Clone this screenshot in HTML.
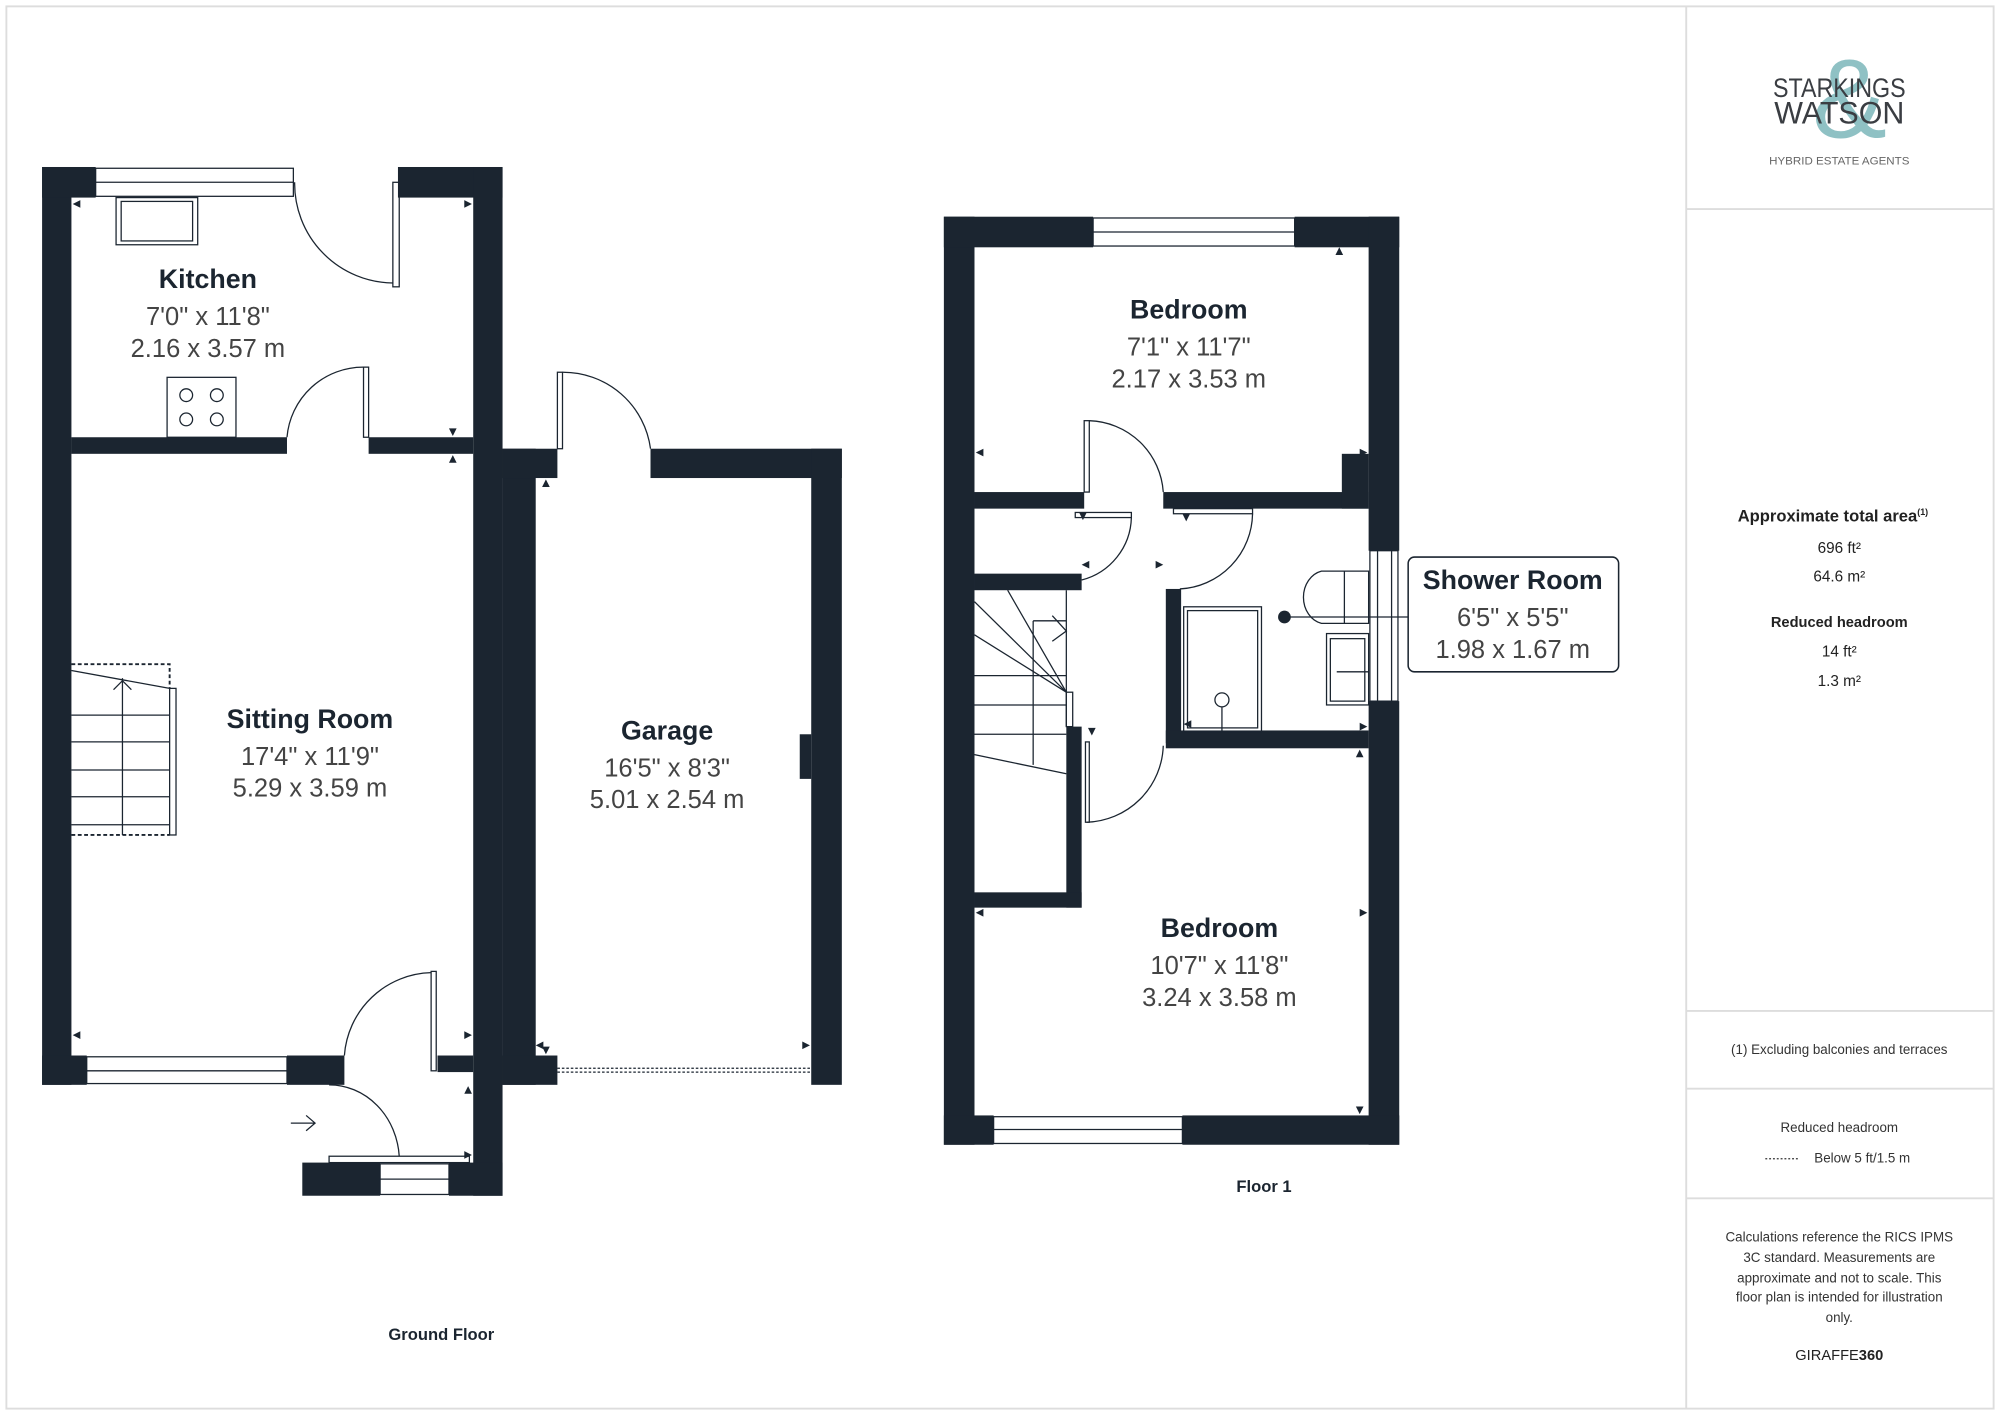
<!DOCTYPE html>
<html><head><meta charset="utf-8"><style>
html,body{margin:0;padding:0;background:#fff;}
svg{display:block}
text{font-family:"Liberation Sans",sans-serif;}
</style></head><body>
<svg width="2000" height="1415" viewBox="0 0 1568 1110" preserveAspectRatio="none" xmlns="http://www.w3.org/2000/svg">
<rect x="0" y="0" width="1568" height="1110" fill="#fff"/>
<rect x="5" y="5" width="1558" height="1100" fill="none" stroke="#ddd" stroke-width="1.5"/>
<line x1="1322" y1="5" x2="1322" y2="1105" stroke="#ddd" stroke-width="1.5"/>
<g stroke="#ddd" stroke-width="1.5">
<line x1="1322" y1="164" x2="1563" y2="164"/>
<line x1="1322" y1="793" x2="1563" y2="793"/>
<line x1="1322" y1="854" x2="1563" y2="854"/>
<line x1="1322" y1="940" x2="1563" y2="940"/>
</g>
<!-- logo -->
<text x="1450" y="108" font-size="88" fill="#8fc1c4" text-anchor="middle">&amp;</text>
<text x="1390" y="76" font-size="21" fill="#3a3d42" textLength="104" lengthAdjust="spacingAndGlyphs">STARKINGS</text>
<text x="1391" y="97" font-size="25" fill="#3a3d42" textLength="102" lengthAdjust="spacingAndGlyphs">WATSON</text>
<text x="1387" y="129" font-size="8.5" fill="#666" textLength="110" lengthAdjust="spacingAndGlyphs">HYBRID ESTATE AGENTS</text>
<!-- side panel -->
<g fill="#222" text-anchor="middle">
<text x="1437" y="409" font-size="13" font-weight="bold">Approximate total area<tspan font-size="7" dy="-5">(1)</tspan></text>
<text x="1442" y="434" font-size="12">696 ft²</text>
<text x="1442" y="456" font-size="12">64.6 m²</text>
<text x="1442" y="492" font-size="11.5" font-weight="bold">Reduced headroom</text>
<text x="1442" y="515" font-size="12">14 ft²</text>
<text x="1442" y="538" font-size="12">1.3 m²</text>
<text x="1442" y="827" font-size="10.5" fill="#333">(1) Excluding balconies and terraces</text>
<text x="1442" y="888" font-size="10.5" fill="#333">Reduced headroom</text>
<text x="1460" y="912" font-size="10.5" fill="#333">Below 5 ft/1.5 m</text>
<text x="1442" y="974" font-size="10.5" fill="#333">Calculations reference the RICS IPMS</text>
<text x="1442" y="990" font-size="10.5" fill="#333">3C standard. Measurements are</text>
<text x="1442" y="1006" font-size="10.5" fill="#333">approximate and not to scale. This</text>
<text x="1442" y="1021" font-size="10.5" fill="#333">floor plan is intended for illustration</text>
<text x="1442" y="1037" font-size="10.5" fill="#333">only.</text>
<text x="1442" y="1067" font-size="11.5" fill="#222">GIRAFFE<tspan font-weight="bold">360</tspan></text>
</g>
<line x1="1384" y1="909" x2="1410" y2="909" stroke="#333" stroke-width="1" stroke-dasharray="1.5,1.5"/>

<!-- GROUND FLOOR -->
<g fill="#1b2530">
<rect x="33" y="131" width="23" height="720"/>
<rect x="33" y="131" width="42" height="24"/>
<rect x="312" y="131" width="82" height="24"/>
<rect x="371" y="131" width="23" height="807"/>
<rect x="56" y="343" width="169" height="13"/>
<rect x="289" y="343" width="82" height="13"/>
<rect x="33" y="828" width="35" height="23"/>
<rect x="225" y="828" width="45" height="23"/>
<rect x="343" y="828" width="28" height="13"/>
<rect x="237" y="912" width="61" height="26"/>
<rect x="352" y="912" width="42" height="26"/>
<!-- garage -->
<rect x="394" y="352" width="26" height="499"/>
<rect x="394" y="352" width="43" height="23"/>
<rect x="510" y="352" width="150" height="23"/>
<rect x="636" y="352" width="24" height="499"/>
<rect x="394" y="828" width="43" height="23"/>
<rect x="627" y="576" width="9" height="35"/>
</g>
<g fill="#fff" stroke="#1b2530" stroke-width="1">
<rect x="75" y="132" width="155" height="22"/>
<rect x="68" y="829" width="157" height="21"/>
<rect x="298" y="913" width="54" height="24"/>
</g>
<g stroke="#1b2530" stroke-width="1" fill="none">
<line x1="75" y1="143" x2="230" y2="143"/>
<line x1="68" y1="840" x2="225" y2="840"/>
<line x1="298" y1="925" x2="352" y2="925"/>
<rect x="91" y="155" width="64" height="37"/><rect x="95" y="158" width="56" height="31"/>
<rect x="131" y="296" width="54" height="47"/>
<circle cx="146" cy="310" r="5"/><circle cx="170" cy="310" r="5"/><circle cx="146" cy="329" r="5"/><circle cx="170" cy="329" r="5"/>
<rect x="308" y="143" width="5" height="82"/>
<path d="M231 143 A78 78 0 0 0 308 222"/>
<rect x="285" y="288" width="4" height="55"/>
<path d="M225 343 A60 60 0 0 1 285 288"/>
<rect x="437" y="292" width="4" height="60"/>
<path d="M441 292 A69 69 0 0 1 510 352"/>
<line x1="437" y1="838" x2="636" y2="838" stroke-dasharray="2,1.5"/>
<line x1="437" y1="841" x2="636" y2="841" stroke-dasharray="2,1.5"/>
<path d="M56 521 L133 521 L133 540" stroke-dasharray="3,2" stroke-width="1.5"/>
<line x1="56" y1="526" x2="133" y2="540"/>
<rect x="133" y="540" width="5" height="115"/>
<line x1="56" y1="655" x2="133" y2="655" stroke-dasharray="3,2" stroke-width="1.5"/>
<line x1="96" y1="532" x2="96" y2="655"/>
<line x1="56" y1="561" x2="133" y2="561"/>
<line x1="56" y1="582" x2="133" y2="582"/>
<line x1="56" y1="604" x2="133" y2="604"/>
<line x1="56" y1="625" x2="133" y2="625"/>
<line x1="56" y1="647" x2="133" y2="647"/>
<path d="M89 541 L96 534 L103 541"/>
<rect x="338" y="762" width="4" height="78"/>
<path d="M270 828 A70 70 0 0 1 338 763"/>
<rect x="258" y="907" width="110" height="5"/>
<path d="M258 851 A55 60 0 0 1 313 907"/>
<path d="M228 881 L247 881 M240 875 L247 881 L240 887"/>
</g>
<g fill="#1b2530">
<path d="M57 160 l6 -3 v6z"/><path d="M370 160 l-6 -3 v6z"/>
<path d="M355 342 l-3 -6 h6z"/><path d="M355 357 l-3 6 h6z"/>
<path d="M57 812 l6 -3 v6z"/><path d="M370 812 l-6 -3 v6z"/>
<path d="M428 376 l-3 6 h6z"/><path d="M428 827 l-3 -6 h6z"/>
<path d="M420 820 l6 -3 v6z"/><path d="M635 820 l-6 -3 v6z"/>
<path d="M367 852 l-3 6 h6z"/><path d="M370 906 l-6 -3 v6z"/>
</g>

<!-- FLOOR 1 -->
<g fill="#1b2530">
<rect x="740" y="170" width="24" height="728"/>
<rect x="740" y="170" width="117" height="24"/>
<rect x="1015" y="170" width="82" height="24"/>
<rect x="1073" y="170" width="24" height="262"/>
<rect x="1073" y="550" width="24" height="348"/>
<rect x="740" y="875" width="39" height="23"/>
<rect x="927" y="875" width="170" height="23"/>
<rect x="764" y="386" width="86" height="13"/>
<rect x="912" y="386" width="161" height="13"/>
<rect x="1052" y="356" width="21" height="43"/>
<rect x="764" y="450" width="84" height="13"/>
<rect x="836" y="570" width="12" height="142"/>
<rect x="764" y="700" width="84" height="12"/>
<rect x="914" y="462" width="12" height="121"/>
<rect x="914" y="573" width="159" height="14"/>
</g>
<g fill="#fff" stroke="#1b2530" stroke-width="1">
<rect x="857" y="171" width="158" height="22"/>
<rect x="779" y="876" width="148" height="21"/>
<rect x="1074" y="432" width="22" height="118"/>
</g>
<g stroke="#1b2530" stroke-width="1" fill="none">
<line x1="857" y1="182" x2="1015" y2="182"/>
<line x1="779" y1="886" x2="927" y2="886"/>
<line x1="1080" y1="432" x2="1080" y2="550"/><line x1="1091" y1="432" x2="1091" y2="550"/>
<rect x="850" y="330" width="4" height="56"/>
<path d="M854 330 A60 60 0 0 1 912 386"/>
<rect x="843" y="402" width="44" height="4"/>
<path d="M887 406 A52 52 0 0 1 848 455"/>
<rect x="920" y="399" width="62" height="4"/>
<path d="M982 403 A60 60 0 0 1 925 462"/>
<rect x="851" y="582" width="3" height="63"/>
<path d="M912 585 A62 62 0 0 1 852 645"/>
<line x1="836" y1="463" x2="836" y2="570"/>
<line x1="764" y1="530" x2="836" y2="530"/><line x1="764" y1="553" x2="836" y2="553"/><line x1="764" y1="576" x2="836" y2="576"/>
<line x1="810" y1="487" x2="836" y2="487"/>
<line x1="810" y1="487" x2="810" y2="600"/>
<line x1="764" y1="592" x2="836" y2="607"/>
<line x1="764" y1="472" x2="836" y2="543"/>
<line x1="790" y1="463" x2="836" y2="543"/>
<line x1="764" y1="498" x2="836" y2="543"/>
<path d="M825 483 L836 495 L825 503"/>
<rect x="836" y="543" width="5" height="27"/>
<rect x="928" y="476" width="61" height="98"/><rect x="931" y="479" width="55" height="92"/>
<circle cx="958" cy="549" r="5.5"/><line x1="958" y1="555" x2="958" y2="574"/>
<path d="M1073 448 L1036 448 A18 21 0 0 0 1036 489 L1073 489 Z"/>
<line x1="1054" y1="448" x2="1054" y2="489"/>
<rect x="1040" y="497" width="33" height="56"/><rect x="1043" y="501" width="27" height="49"/>
<line x1="1048" y1="527" x2="1073" y2="527"/>
<line x1="1008" y1="484" x2="1104" y2="484"/>
</g>
<circle cx="1007" cy="484" r="5" fill="#1b2530"/>
<rect x="1104" y="437" width="165" height="90" rx="5" fill="#fff" stroke="#1b2530" stroke-width="1.2"/>
<g fill="#1b2530">
<path d="M1050 194 l-3 6 h6z"/><path d="M765 355 l6 -3 v6z"/><path d="M1072 355 l-6 -3 v6z"/>
<path d="M849 408 l-3 -6 h6z"/><path d="M930 409 l-3 -6 h6z"/>
<path d="M848 443 l6 -3 v6z"/><path d="M912 443 l-6 -3 v6z"/>
<path d="M856 577 l-3 -6 h6z"/><path d="M1072 570 l-6 -3 v6z"/>
<path d="M1066 588 l-3 6 h6z"/><path d="M928 568 l6 -3 v6z"/>
<path d="M765 716 l6 -3 v6z"/><path d="M1072 716 l-6 -3 v6z"/>
<path d="M1066 874 l-3 -6 h6z"/>
</g>

<g fill="#1b2530" text-anchor="middle">
<text x="163" y="226" font-size="21" font-weight="bold">Kitchen</text>
<text x="163" y="255" font-size="20" fill="#444">7'0" x 11'8"</text>
<text x="163" y="280" font-size="20" fill="#444">2.16 x 3.57 m</text>
<text x="243" y="571" font-size="21" font-weight="bold">Sitting Room</text>
<text x="243" y="600" font-size="20" fill="#444">17'4" x 11'9"</text>
<text x="243" y="625" font-size="20" fill="#444">5.29 x 3.59 m</text>
<text x="523" y="580" font-size="21" font-weight="bold">Garage</text>
<text x="523" y="609" font-size="20" fill="#444">16'5" x 8'3"</text>
<text x="523" y="634" font-size="20" fill="#444">5.01 x 2.54 m</text>
<text x="932" y="250" font-size="21" font-weight="bold">Bedroom</text>
<text x="932" y="279" font-size="20" fill="#444">7'1" x 11'7"</text>
<text x="932" y="304" font-size="20" fill="#444">2.17 x 3.53 m</text>
<text x="956" y="735" font-size="21" font-weight="bold">Bedroom</text>
<text x="956" y="764" font-size="20" fill="#444">10'7" x 11'8"</text>
<text x="956" y="789" font-size="20" fill="#444">3.24 x 3.58 m</text>
<text x="1186" y="462" font-size="21" font-weight="bold">Shower Room</text>
<text x="1186" y="491" font-size="20" fill="#444">6'5" x 5'5"</text>
<text x="1186" y="516" font-size="20" fill="#444">1.98 x 1.67 m</text>
<text x="346" y="1051" font-size="13" font-weight="bold">Ground Floor</text>
<text x="991" y="935" font-size="13" font-weight="bold">Floor 1</text>
</g>
</svg>
</body></html>
